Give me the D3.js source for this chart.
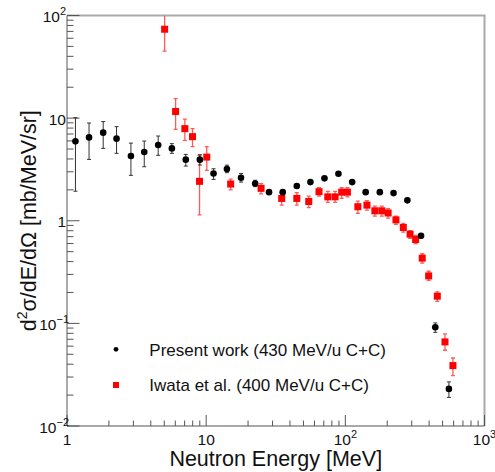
<!DOCTYPE html>
<html>
<head>
<meta charset="utf-8">
<script src="https://cdn.jsdelivr.net/npm/d3@7"></script>
<style>
body { margin: 0; background: #fff; }
svg { display: block; font-family: "Liberation Sans", Arial, sans-serif; }
</style>
</head>
<body>
<div id="chart"></div>
<script>
// present work (430 MeV/u C+C)
const presentE = [1.15, 1.44, 1.82, 2.27, 2.88, 3.59, 4.52, 5.67, 7.14, 9.01, 11.3, 14.1, 17.8, 22.5, 28.3, 35.5, 44.8, 56.1, 70.8, 89.2, 112, 140, 177, 222, 279, 350, 443, 555]
const presentY = [5.94, 6.49, 7.22, 6.31, 4.27, 4.67, 5.47, 5.07, 3.94, 3.94, 2.89, 3.19, 2.62, 2.31, 1.90, 1.90, 2.18, 2.38, 2.59, 2.87, 2.38, 1.90, 1.90, 1.86, 1.58, 0.714, 0.0916, 0.0230]
const presentHi = [10.1, 8.96, 9.25, 8.26, 5.71, 5.98, 6.69, 5.64, 4.43, 4.40, 3.21, 3.48, 2.89, 2.48, 1.98, 1.97, 2.27, 2.46, 2.67, 2.96, 2.46, 1.97, 1.97, 1.93, 1.64, 0.75, 0.101, 0.0269]
const presentLo = [1.94, 3.96, 5.07, 4.54, 2.77, 3.36, 4.34, 4.54, 3.41, 3.49, 2.53, 2.94, 2.38, 2.15, 1.82, 1.83, 2.09, 2.30, 2.51, 2.78, 2.30, 1.83, 1.83, 1.79, 1.52, 0.68, 0.0818, 0.019]

// Iwata et al. (400 MeV/u C+C)
const iwataE = [5.03, 6.03, 7.03, 7.98, 8.96, 10.1, 15.0, 24.8, 34.9, 44.8, 54.6, 64.7, 74.8, 84.4, 94.2, 103.5, 123, 143, 163, 183, 203, 231, 261, 292, 320, 357, 397, 458, 520, 593]
const iwataY = [73.5, 11.6, 7.9, 6.6, 2.42, 4.17, 2.28, 2.07, 1.65, 1.65, 1.54, 1.92, 1.71, 1.71, 1.90, 1.90, 1.37, 1.42, 1.25, 1.25, 1.19, 1.02, 0.86, 0.74, 0.657, 0.432, 0.29, 0.184, 0.066, 0.0388]
const iwataHi = [130, 15.5, 9.8, 7.9, 4.34, 5.27, 2.55, 2.30, 1.88, 1.88, 1.74, 2.10, 1.93, 1.93, 2.10, 2.10, 1.55, 1.57, 1.39, 1.39, 1.31, 1.11, 0.94, 0.80, 0.72, 0.477, 0.322, 0.203, 0.079, 0.046]
const iwataLo = [44.9, 7.78, 6.07, 5.27, 1.14, 3.10, 2.0, 1.83, 1.42, 1.42, 1.34, 1.74, 1.51, 1.51, 1.65, 1.71, 1.18, 1.27, 1.11, 1.11, 1.06, 0.92, 0.774, 0.672, 0.60, 0.386, 0.262, 0.164, 0.0547, 0.031]

// tick labels
const xMajor = [1, 10, 100, 1000]
const xLabelBase = ["1", "10", "10", "10"]
const xLabelExp = ["", "", "2", "3"]
const yMajor = [0.01, 0.1, 1, 10, 100]
const yLabelBase = ["10", "10", "1", "10", "10"]
const yLabelExp = ["\u22122", "\u22121", "", "", "2"]

const legendLabels = ["Present work (430 MeV/u C+C)", "Iwata et al. (400 MeV/u C+C)"]

const width = 495
const height = 472
const margin = {top: 15.5, right: 10.5, bottom: 46, left: 67}

const svg = d3.select("div#chart").append("svg").attr("width", width).attr("height", height)

const x = d3.scaleLog().domain([1, 1000]).range([margin.left, width - margin.right])
const y = d3.scaleLog().domain([0.01, 100]).range([height - margin.bottom, margin.top])

const x0 = x.range()[0], x1 = x.range()[1]
const y0 = y.range()[0], y1 = y.range()[1]
const isMajor = v => Math.abs(Math.log10(v) - Math.round(Math.log10(v))) < 1e-9

svg.append("clipPath").attr("id", "plotClip")
    .append("rect").attr("x", x0).attr("y", y1).attr("width", x1 - x0).attr("height", y0 - y1)

// frame: light top/right, darker axes
const frame = svg.append("g").attr("class", "frame")
frame.append("line").attr("x1", x0).attr("x2", x1 + 1).attr("y1", y1).attr("y2", y1)
    .attr("stroke", "#aaa").attr("stroke-width", 2)
frame.append("line").attr("x1", x1).attr("x2", x1).attr("y1", y1).attr("y2", y0)
    .attr("stroke", "#aaa").attr("stroke-width", 2)

const axisGroup = svg.append("g").attr("class", "axisGroup").attr("stroke", "#555")
axisGroup.append("line").attr("x1", x0).attr("x2", x1).attr("y1", y0).attr("y2", y0)
axisGroup.append("line").attr("x1", x0).attr("x2", x0).attr("y1", y1).attr("y2", y0)

axisGroup.selectAll("line.xt").data(x.ticks()).join("line").attr("class", "xt")
    .attr("x1", d => x(d)).attr("x2", d => x(d))
    .attr("y1", y0).attr("y2", d => y0 - (isMajor(d) ? 11 : 5.5))

axisGroup.selectAll("line.yt").data(y.ticks()).join("line").attr("class", "yt")
    .attr("y1", d => y(d)).attr("y2", d => y(d))
    .attr("x1", x0).attr("x2", d => x0 + (isMajor(d) ? 12.5 : 6.5))

// tick labels
const labels = svg.append("g").attr("class", "labels").attr("fill", "#111").attr("font-size", 15.5)

const xl = labels.selectAll("text.xl").data(xMajor).join("text").attr("class", "xl")
    .attr("x", d => x(d)).attr("y", y0 + 19).attr("text-anchor", "middle")
xl.append("tspan").text((d, i) => xLabelBase[i])
xl.append("tspan").attr("font-size", 11).attr("dy", -7).text((d, i) => xLabelExp[i])

const yl = labels.selectAll("text.yl").data(yMajor).join("text").attr("class", "yl")
    .attr("x", (d, i) => x0 - 1 + (yLabelExp[i].startsWith("\u2212") ? 3 : 0))
    .attr("y", d => y(d) + 6.5).attr("text-anchor", "end")
yl.append("tspan").text((d, i) => yLabelBase[i])
yl.append("tspan").attr("font-size", 11).attr("dy", -7).text((d, i) => yLabelExp[i])

// axis titles
svg.append("text").attr("x", (x0 + x1) / 2).attr("y", 466).attr("text-anchor", "middle")
    .attr("font-size", 21.5).attr("fill", "#111").text("Neutron Energy [MeV]")

const yTitle = svg.append("text").attr("text-anchor", "middle").attr("font-size", 21.5).attr("fill", "#111")
    .attr("transform", `translate(36, ${(y0 + y1) / 2}) rotate(-90)`)
yTitle.append("tspan").text("d")
yTitle.append("tspan").attr("font-size", 14).attr("dy", -9).text("2")
yTitle.append("tspan").attr("dy", 9).text("\u03c3/dE/d\u03a9 [mb/MeV/sr]")

// data
const elementGroup = svg.append("g").attr("class", "elementGroup").attr("clip-path", "url(#plotClip)")

function errorBars(g, E, Y, Hi, Lo, color, width) {
    const bars = g.append("g").attr("stroke", color).attr("stroke-width", width)
    bars.selectAll("line.v").data(E).join("line").attr("class", "v")
        .attr("x1", d => x(d)).attr("x2", d => x(d))
        .attr("y1", (d, i) => y(Hi[i])).attr("y2", (d, i) => y(Lo[i]))
    bars.selectAll("line.hi").data(E).join("line").attr("class", "hi")
        .attr("x1", d => x(d) - 2).attr("x2", d => x(d) + 2)
        .attr("y1", (d, i) => y(Hi[i])).attr("y2", (d, i) => y(Hi[i]))
    bars.selectAll("line.lo").data(E).join("line").attr("class", "lo")
        .attr("x1", d => x(d) - 2).attr("x2", d => x(d) + 2)
        .attr("y1", (d, i) => y(Lo[i])).attr("y2", (d, i) => y(Lo[i]))
}

errorBars(elementGroup, iwataE, iwataY, iwataHi, iwataLo, "#ff5a5a", 1.3)
elementGroup.selectAll("rect.iwata").data(iwataE).join("rect").attr("class", "iwata")
    .attr("x", d => x(d) - 3.5).attr("y", (d, i) => y(iwataY[i]) - 3.5)
    .attr("width", 7).attr("height", 7).attr("fill", "#ff0000")

errorBars(elementGroup, presentE, presentY, presentHi, presentLo, "#333", 1)
elementGroup.selectAll("circle.present").data(presentE).join("circle").attr("class", "present")
    .attr("cx", d => x(d)).attr("cy", (d, i) => y(presentY[i]))
    .attr("r", 3.3).attr("fill", "#000")

// legend
const legend = svg.append("g").attr("class", "legend")
legend.append("circle").attr("cx", 116).attr("cy", 349.3).attr("r", 2.4).attr("fill", "#000")
legend.append("rect").attr("x", 113).attr("y", 382).attr("width", 6).attr("height", 6).attr("fill", "#ff0000")
legend.selectAll("text").data(legendLabels).join("text")
    .attr("x", 149.3).attr("y", (d, i) => [356.3, 390.5][i])
    .attr("font-size", 17).attr("fill", "#111").text(d => d)
</script>
</body>
</html>
